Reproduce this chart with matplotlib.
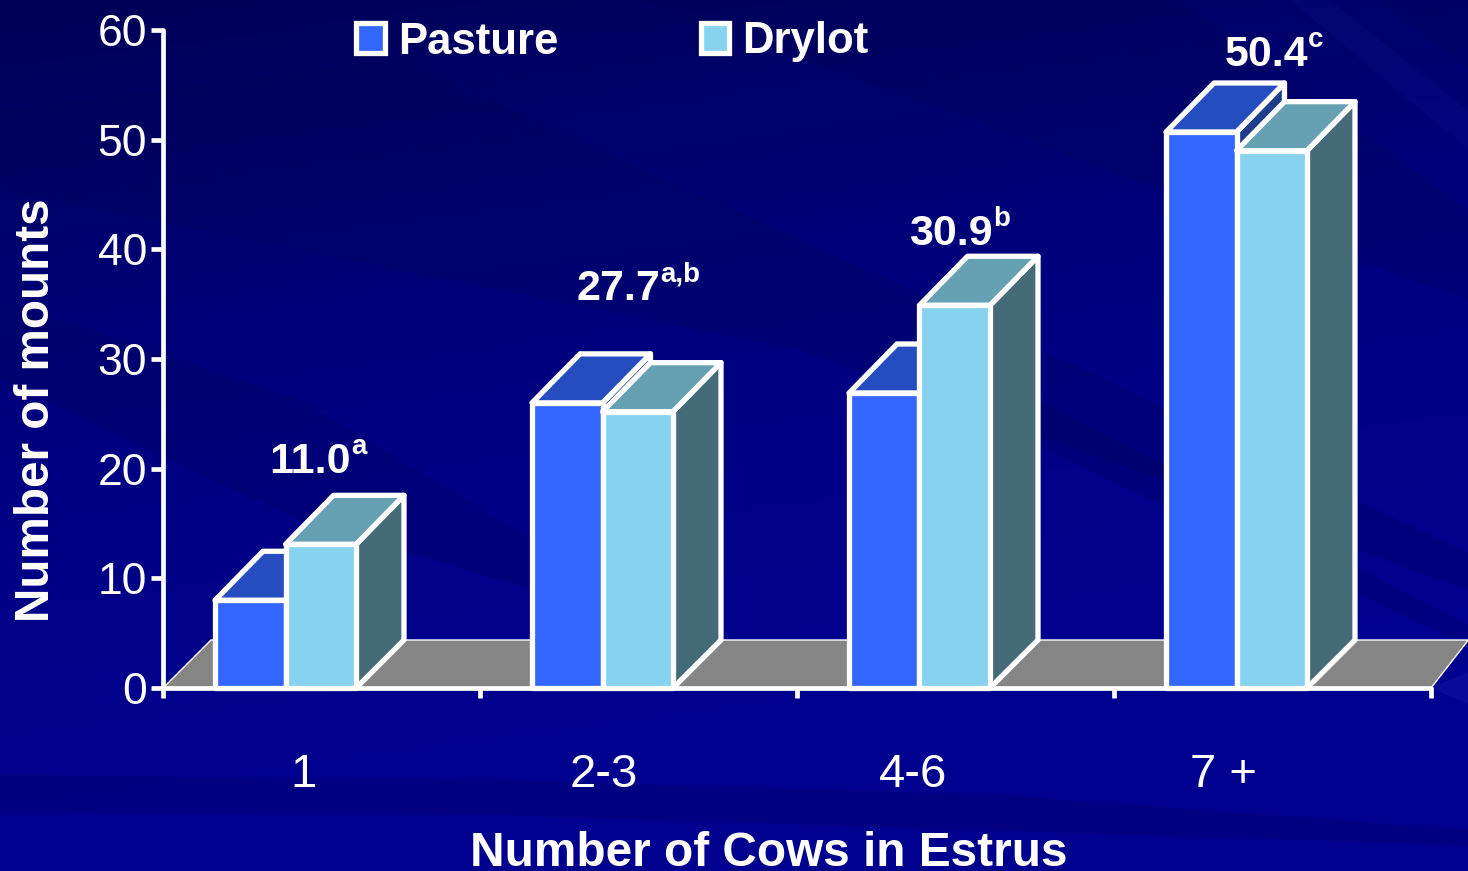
import numpy as np
import matplotlib
matplotlib.use("Agg")
import matplotlib.pyplot as plt
from matplotlib.colors import LinearSegmentedColormap
from matplotlib.patches import Polygon, Patch

plt.rcParams['font.family'] = ['Liberation Sans', 'DejaVu Sans']

# ---- data ----
categories = ['1', '2-3', '4-6', '7 +']
pasture = [8.0, 26.0, 26.9, 50.7]
drylot = [13.1, 25.2, 34.9, 49.0]
overall = ['11.0', '27.7', '30.9', '50.4']
letters = ['a', 'a,b', 'b', 'c']
y_ticks = [0, 10, 20, 30, 40, 50, 60]

W, H = 1468, 871
fig = plt.figure(figsize=(W / 100, H / 100), dpi=100)

# ---- background ----
bg = fig.add_axes([0, 0, 1, 1], zorder=0)
bg.set_xlim(0, W)
bg.set_ylim(H, 0)
bg.axis('off')
cmap = LinearSegmentedColormap.from_list('bgc', ['#000058', '#00006c', '#00007e', '#000088', '#00008e'])
yy, xx = np.mgrid[0:1:200j, 0:1:200j]
grad = np.clip(yy * 1.1 + 0.25 * xx - 0.02, 0, 1)
bg.imshow(grad, extent=(0, W, H, 0), cmap=cmap, vmin=0, vmax=1, aspect='auto', zorder=0)
dark_bands = [
    [(0, 110), (400, 60), (1000, 330), (1468, 553), (1468, 590), (800, 350), (0, 190)],
    [(0, 775), (500, 780), (1000, 795), (1468, 830), (1468, 845), (500, 815), (0, 812)],
    [(640, 0), (1180, 0), (1468, 210), (1468, 300)],
    [(1000, 380), (1468, 625), (1468, 645), (1000, 430)],
    [(0, 300), (300, 400), (700, 640), (300, 520), (0, 380)],
    [(1380, 0), (1468, 0), (1468, 70)],
]
for b in dark_bands:
    bg.add_patch(Polygon(b, closed=True, fc='#000050', ec='none', alpha=0.22, zorder=1))
light_bands = [
    [(1290, 0), (1330, 0), (1468, 110), (1468, 150)],
    [(1431, 688), (1468, 672), (1468, 704)],
]
for b, a in zip(light_bands, [0.1, 0.3]):
    bg.add_patch(Polygon(b, closed=True, fc='#2020b8', ec='none', alpha=a, zorder=1))

# ---- plot axes ----
ax_left, ax_right, ax_top, ax_bot = 163, 1431, 30, 688
ax = fig.add_axes([ax_left / W, 1 - ax_bot / H, (ax_right - ax_left) / W, (ax_bot - ax_top) / H], zorder=1)
ax.patch.set_alpha(0)
ax.set_xlim(0, len(categories))
ax.set_ylim(0, 60)
xunit = (ax_right - ax_left) / len(categories)
yunit = (ax_bot - ax_top) / 60
dx, dy = 48 / xunit, 49 / yunit
floor_dy = 48 / yunit
bw = 70.5 / xunit
start = 52 / xunit
LW = 3.8
WHITE = 'white'

# floor
ax.add_patch(Polygon([(0, 0), (dx, floor_dy), (len(categories) + 0.118, floor_dy), (len(categories), 0)],
                     closed=True, fc='#858585', ec='white', lw=1.0, clip_on=False, zorder=1))


def bar3d(x, v, front, top, side, z):
    kw = dict(closed=True, ec=WHITE, lw=LW, joinstyle='round', clip_on=False, zorder=z)
    ax.add_patch(Polygon([(x + bw, 0), (x + bw + dx, floor_dy), (x + bw + dx, v + dy), (x + bw, v)], fc=side, **kw))
    ax.add_patch(Polygon([(x, v), (x + dx, v + dy), (x + bw + dx, v + dy), (x + bw, v)], fc=top, **kw))
    ax.add_patch(Polygon([(x, 0), (x + bw, 0), (x + bw, v), (x, v)], fc=front, **kw))


for i in range(len(categories)):
    bar3d(i + start, pasture[i], '#3366ff', '#264dbf', '#1f3f8c', 2)
    bar3d(i + start + bw, drylot[i], '#87d2ee', '#66a1b3', '#466b78', 3)

# axes styling
for s in ('top', 'right'):
    ax.spines[s].set_visible(False)
for s in ('left', 'bottom'):
    ax.spines[s].set_color('white')
    ax.spines[s].set_linewidth(3.4)
    ax.spines[s].set_zorder(5)
    ax.spines[s].set_capstyle('round')
ax.set_yticks(y_ticks)
ax.set_xticks(range(len(categories) + 1))
ax.set_xticklabels([])
ax.tick_params(axis='y', colors='white', labelsize=32, length=8.5, width=3.4, pad=3)
ax.tick_params(axis='x', colors='white', length=7, width=3.4)


# text placed in pixel positions
def px(x, y, s, **kw):
    return fig.text(x / W, 1 - y / H, s, color='white', zorder=6, **kw)


for x, c in zip([303, 604, 913, 1224], categories):
    px(x, 787, c, fontsize=34, ha='center', va='baseline')
px(769, 866, 'Number of Cows in Estrus', fontsize=34.4, fontweight='bold', ha='center', va='baseline')
px(37, 410, 'Number of mounts', fontsize=34.3, fontweight='bold', rotation=90, ha='center', va='center',
   rotation_mode='anchor')

for (x, y), o, l in zip([(351, 473), (660, 300), (993, 245), (1308, 66)], overall, letters):
    px(x, y, o, fontsize=31, fontweight='bold', ha='right', va='baseline')
    px(x, y - 19, l, fontsize=20, fontweight='bold', ha='left', va='baseline')

# legend
handles = [Patch(fc='#3366ff', ec='white', lw=LW, label='Pasture'),
           Patch(fc='#87d2ee', ec='white', lw=LW, label='Drylot')]
leg = fig.legend(handles=handles, ncol=2, frameon=False, labelcolor='white',
                 prop={'family': 'Liberation Sans', 'weight': 'bold', 'size': 31.5},
                 handlelength=0.66, handleheight=0.66, handletextpad=0.3, columnspacing=3.25,
                 borderpad=0, borderaxespad=0, loc='center left',
                 bbox_to_anchor=(356 / W, 1 - 42 / H))
leg.set_zorder(6)

fig.savefig('out.png', dpi=100)
